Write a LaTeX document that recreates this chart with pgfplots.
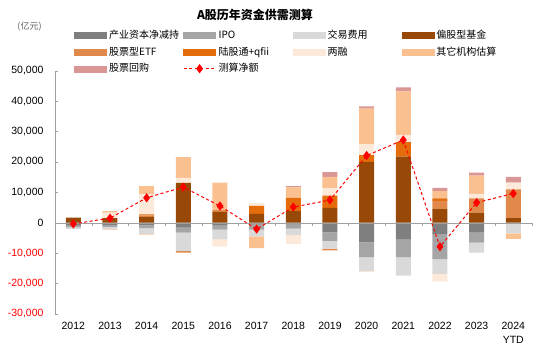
\documentclass[border=0pt]{standalone}
\usepackage{fontspec}
\setmainfont{Liberation Sans}
\newfontfamily\cjk{Noto Sans CJK SC}
\usepackage{pgfplots}
\usepackage{pgfplotstable}
\pgfplotsset{compat=1.18}
\definecolor{c1}{HTML}{7F7F7F}
\definecolor{c2}{HTML}{A5A5A5}
\definecolor{c3}{HTML}{D9D9D9}
\definecolor{c4}{HTML}{984807}
\definecolor{c5}{HTML}{E0894A}
\definecolor{c6}{HTML}{E46C0A}
\definecolor{c7}{HTML}{FDE9D9}
\definecolor{c8}{HTML}{FAC090}
\definecolor{c9}{HTML}{D99694}
\definecolor{axisgray}{HTML}{A0A0A0}
\definecolor{unitgray}{HTML}{606060}
\definecolor{negred}{HTML}{FF0000}

\pgfplotstableread{
x cy ipo fee fund etf hk margin other buyback
0 0 0 0 1700 0 0 0 0 0
1 0 0 0 1500 0 0 1800 500 0
2 0 0 0 1950 450 330 6650 2620 0
3 0 0 0 13100 0 0 1640 6850 0
4 0 0 0 3600 500 0 0 9100 0
5 0 0 0 2900 0 2600 900 0 0
6 0 0 0 3800 0 4400 0 3400 450
7 0 0 0 4900 0 4000 2400 3800 1500
8 0 0 0 20000 0 2200 3600 11700 770
9 0 0 0 21700 0 4800 2400 14300 1300
10 0 0 0 4500 2700 770 0 2400 1100
11 0 0 0 3300 4700 0 1500 6000 1000
12 0 0 0 1500 9500 0 2200 0 1850
}\posdata

\pgfplotstableread{
x cy ipo fee fund etf hk margin other buyback
0 -800 -650 -600 0 0 0 0 0 0
1 -700 -700 -600 0 -200 0 0 0 0
2 -900 -900 -1900 0 0 0 0 -200 0
3 -1640 -1640 -6000 0 -550 0 0 0 0
4 -770 -1530 -3070 0 0 0 -2500 0 0
5 -600 -1700 -2200 0 0 0 0 -3900 0
6 -650 -1300 -2100 0 0 0 -2950 0 0
7 -3160 -2850 -2550 0 -550 0 0 0 0
8 -6500 -4800 -4600 0 0 0 -300 0 0
9 -5400 -6000 -6000 0 0 0 0 0 0
10 -3700 -8300 -4800 0 0 0 -2500 0 0
11 -3070 -3500 -3300 0 0 0 0 0 0
12 0 0 -3500 0 0 0 0 -1860 0
}\negdata

\pgfplotstableread{
x net
0 -400
1 1500
2 8200
3 11700
4 5500
5 -2100
6 5150
7 7450
8 22100
9 27200
10 -7900
11 6600
12 9600
}\netdata

\pgfplotsset{
  base/.style={scale only axis, width=476.6pt, height=243.2pt,
    at={(55pt,37.1pt)}, anchor=south west,
    xmin=-0.5, xmax=12.5, ymin=-30000, ymax=50000,
    scaled y ticks=false, scaled x ticks=false},
  legbar/.style={legend image code/.code={\fill[#1] (0pt,-3pt) rectangle (32pt,3pt);}},
  legline/.style={legend image code/.code={\draw[mark repeat=2,mark phase=2,##1] plot coordinates {(0pt,0pt) (16pt,0pt) (32pt,0pt)};}},
}

\begin{document}
\begin{tikzpicture}
\path[use as bounding box] (0,0) rectangle (553pt,351pt);

% negative stacks + axes
\begin{axis}[base, ybar stacked, bar width=15pt,
  axis y line*=left, axis x line*=bottom,
  x axis line style={draw=none}, y axis line style={draw=axisgray,-},
  ytick={-30000,-20000,-10000,0,10000,20000,30000,40000,50000},
  yticklabels={{\textcolor{negred}{-30,000}},{\textcolor{negred}{-20,000}},{\textcolor{negred}{-10,000}},{0},{10,000},{20,000},{30,000},{40,000},{50,000}},
  ytick style={draw=axisgray}, tick align=inside, major tick length=3pt,
  xtick={0,1,2,3,4,5,6,7,8,9,10,11,12},
  xticklabels={2012,2013,2014,2015,2016,2017,2018,2019,2020,2021,2022,2023,{2024\\YTD}},
  xtick style={draw=none},
  yticklabel style={xshift=-8pt, font=\fontsize{10.5}{12}\selectfont},
  xticklabel style={align=center, font=\fontsize{10.5}{13.5}\selectfont, anchor=north, yshift=-5pt},
]
\addplot[fill=c1, draw=none] table[x=x,y=cy]{\negdata};
\addplot[fill=c2, draw=none] table[x=x,y=ipo]{\negdata};
\addplot[fill=c3, draw=none] table[x=x,y=fee]{\negdata};
\addplot[fill=c4, draw=none] table[x=x,y=fund]{\negdata};
\addplot[fill=c5, draw=none] table[x=x,y=etf]{\negdata};
\addplot[fill=c6, draw=none] table[x=x,y=hk]{\negdata};
\addplot[fill=c7, draw=none] table[x=x,y=margin]{\negdata};
\addplot[fill=c8, draw=none] table[x=x,y=other]{\negdata};
\addplot[fill=c9, draw=none] table[x=x,y=buyback]{\negdata};
\end{axis}

% positive stacks
\begin{axis}[base, ybar stacked, bar width=15pt, hide axis]
\addplot[fill=c4, draw=none] table[x=x,y=fund]{\posdata};
\addplot[fill=c5, draw=none] table[x=x,y=etf]{\posdata};
\addplot[fill=c6, draw=none] table[x=x,y=hk]{\posdata};
\addplot[fill=c7, draw=none] table[x=x,y=margin]{\posdata};
\addplot[fill=c8, draw=none] table[x=x,y=other]{\posdata};
\addplot[fill=c9, draw=none] table[x=x,y=buyback]{\posdata};
\end{axis}

% zero line, net line, legend
\begin{axis}[base, axis y line=none, axis x line*=middle,
  x axis line style={draw=axisgray,-},
  xtick={0.5,1.5,2.5,3.5,4.5,5.5,6.5,7.5,8.5,9.5,10.5,11.5,12.5},
  xticklabels={,,,,,,,,,,,,,}, xticklabel style={text opacity=0},
  xtick style={draw=axisgray}, tick align=outside, major tick length=3pt,
  legend columns=4,
  legend style={at={(0.0399,1.1797)}, anchor=north west, draw=none, fill=none,
    inner sep=0pt, row sep=0pt,
    font=\cjk\fontsize{10}{12}\selectfont,
    nodes={inner xsep=2.5pt, inner ysep=3.3pt, text width=68.5pt, align=left, text height=8pt, text depth=2pt},
    /tikz/every even column/.append style={column sep=3pt}},
]
\addlegendimage{legbar=c1}\addlegendentry{产业资本净减持}
\addlegendimage{legbar=c2}\addlegendentry{IPO}
\addlegendimage{legbar=c3}\addlegendentry{交易费用}
\addlegendimage{legbar=c4}\addlegendentry{偏股型基金}
\addlegendimage{legbar=c5}\addlegendentry{股票型ETF}
\addlegendimage{legbar=c6}\addlegendentry{陆股通+qfii}
\addlegendimage{legbar=c7}\addlegendentry{两融}
\addlegendimage{legbar=c8}\addlegendentry{其它机构估算}
\addlegendimage{legbar=c9}\addlegendentry{股票回购}
\addplot[color=negred, line width=1pt, dash pattern=on 3pt off 2.5pt,
  mark=diamond*, mark size=3.8pt, mark options={solid, fill=negred}, legline]
  table[x=x,y=net]{\netdata};
\addlegendentry{测算净额}
\end{axis}

\node[font=\cjk\bfseries\fontsize{12}{14}\selectfont] at (255pt,336pt) {A股历年资金供需测算};
\node[font=\cjk\fontsize{9}{11}\selectfont, text=unitgray] at (29.5pt,324pt) {(亿元)};
\end{tikzpicture}
\end{document}
